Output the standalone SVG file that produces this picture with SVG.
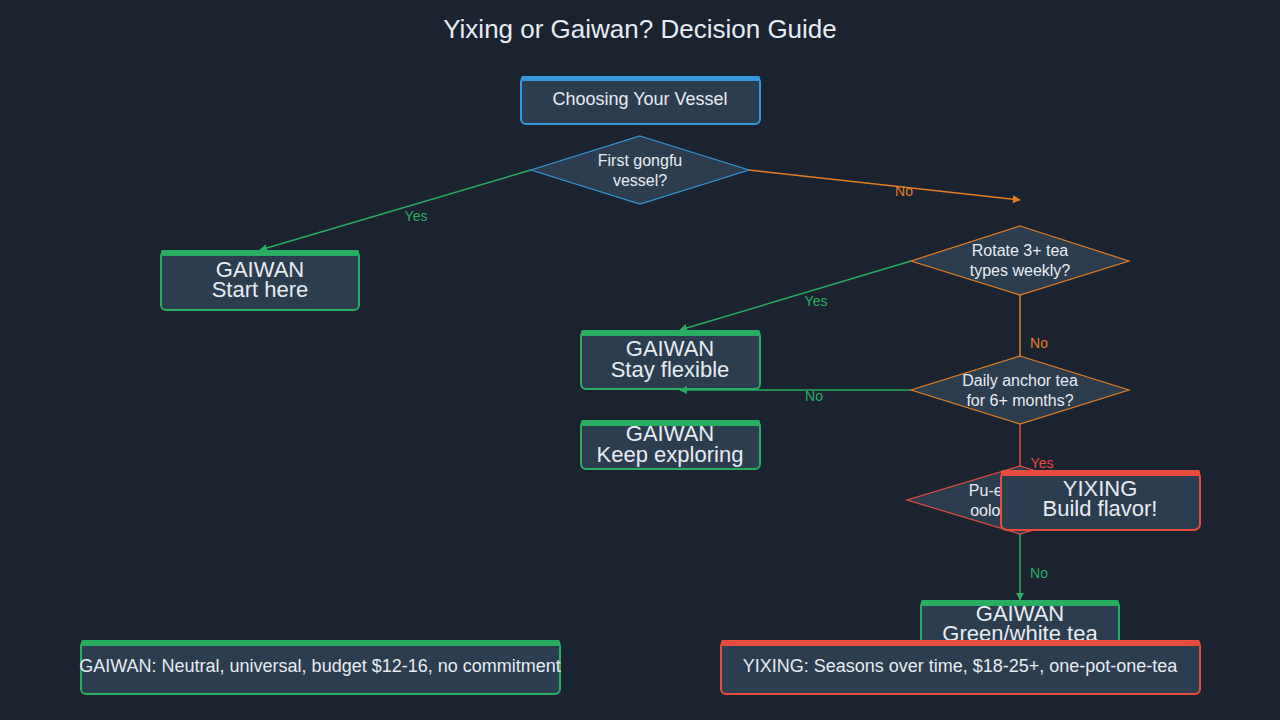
<svg xmlns="http://www.w3.org/2000/svg" width="1280" height="720" viewBox="0 0 1280 720">
<defs>
<style>
.bg{fill:#1b2331}
.title{font-family:"Liberation Sans",Arial,sans-serif;font-size:26px;fill:#e6ecf2;text-anchor:middle}
.nt{font-family:"Liberation Sans",Arial,sans-serif;fill:#e6ecf2;text-anchor:middle}
.box{fill:#2c3d50;stroke-width:2}
.dia{fill:#2c3d50;stroke-width:1.2}
.e{fill:none;stroke-width:1.5}
.lbl{font-family:"Liberation Sans",Arial,sans-serif;font-size:14px;text-anchor:middle}
.g{stroke:#27ae60}.gf{fill:#27ae60}
.b{stroke:#3498db}.bf{fill:#3498db}
.o{stroke:#e67e22}.of{fill:#e67e22}
.r{stroke:#e74c3c}.rf{fill:#e74c3c}
</style>
<marker id="ag" viewBox="0 0 10 10" refX="9" refY="5" markerWidth="8" markerHeight="8" markerUnits="userSpaceOnUse" orient="auto"><path d="M0,0L10,5L0,10z" fill="#27ae60"/></marker>
<marker id="ao" viewBox="0 0 10 10" refX="9" refY="5" markerWidth="8" markerHeight="8" markerUnits="userSpaceOnUse" orient="auto"><path d="M0,0L10,5L0,10z" fill="#e67e22"/></marker>
</defs>
<rect class="bg" x="0" y="0" width="1280" height="720"/>
<text class="title" x="640" y="38">Yixing or Gaiwan? Decision Guide</text>

<g id="start">
<rect class="box b" x="521" y="77" width="239" height="47" rx="5"/>
<rect class="bf" x="521" y="76" width="239" height="5" rx="2"/>
<text class="nt" x="640" y="105" font-size="18">Choosing Your Vessel</text>
</g>

<g id="d1">
<polygon class="dia b" points="640,136 749,170 640,204 531,170"/>
<text class="nt" x="640" y="166" font-size="16">First gongfu</text>
<text class="nt" x="640" y="186" font-size="16">vessel?</text>
</g>

<g id="gaiwan-start">
<rect class="box g" x="161" y="251" width="198" height="59" rx="5"/>
<rect class="gf" x="161" y="250" width="198" height="6" rx="2"/>
<text class="nt" x="260" y="277" font-size="22">GAIWAN</text>
<text class="nt" x="260" y="297" font-size="22">Start here</text>
</g>

<g id="d2">
<polygon class="dia o" points="1020,226 1129,261 1020,295 911,261"/>
<text class="nt" x="1020" y="256" font-size="16">Rotate 3+ tea</text>
<text class="nt" x="1020" y="276" font-size="16">types weekly?</text>
</g>

<g id="gaiwan-flex">
<rect class="box g" x="581" y="331" width="179" height="58" rx="5"/>
<rect class="gf" x="581" y="330" width="179" height="6" rx="2"/>
<text class="nt" x="670" y="356" font-size="22">GAIWAN</text>
<text class="nt" x="670" y="377" font-size="22">Stay flexible</text>
</g>

<g id="d3">
<polygon class="dia o" points="1020,356 1129,390 1020,424 911,390"/>
<text class="nt" x="1020" y="386" font-size="16">Daily anchor tea</text>
<text class="nt" x="1020" y="406" font-size="16">for 6+ months?</text>
</g>

<g id="gaiwan-explore">
<rect class="box g" x="581" y="421" width="179" height="48" rx="5"/>
<rect class="gf" x="581" y="420" width="179" height="6" rx="2"/>
<text class="nt" x="670" y="441" font-size="22">GAIWAN</text>
<text class="nt" x="670" y="462" font-size="22">Keep exploring</text>
</g>

<g id="d4">
<polygon class="dia r" points="1020,466 1133,500 1020,534 907,500"/>
<text class="nt" x="1020" y="496" font-size="16">Pu-erh or dark</text>
<text class="nt" x="1020" y="516" font-size="16">oolong focus?</text>
</g>

<g id="gaiwan-green">
<rect class="box g" x="921" y="601" width="198" height="59" rx="5"/>
<rect class="gf" x="921" y="600" width="198" height="6" rx="2"/>
<text class="nt" x="1020" y="621" font-size="22">GAIWAN</text>
<text class="nt" x="1020" y="641" font-size="22">Green/white tea</text>
</g>

<g id="connectors">
<line class="e g" x1="531" y1="170" x2="260" y2="250" marker-end="url(#ag)" stroke-width="1"/>
<text class="lbl gf" x="416" y="221">Yes</text>
<line class="e o" x1="749" y1="170" x2="1020" y2="200" marker-end="url(#ao)" stroke-width="1"/>
<text class="lbl of" x="904" y="196">No</text>
<line class="e g" x1="911" y1="261" x2="680" y2="330" marker-end="url(#ag)" stroke-width="1"/>
<text class="lbl gf" x="816" y="306">Yes</text>
<line class="e o" x1="1020" y1="295" x2="1020" y2="356" stroke-width="2"/>
<text class="lbl of" x="1039" y="348">No</text>
<line class="e g" x1="911" y1="390" x2="680" y2="390" marker-end="url(#ag)" stroke-width="2"/>
<text class="lbl gf" x="814" y="401">No</text>
<line class="e r" x1="1020" y1="424" x2="1020" y2="466" stroke-width="2"/>
<text class="lbl rf" x="1042" y="468">Yes</text>
<line class="e g" x1="1020" y1="534" x2="1020" y2="600" marker-end="url(#ag)" stroke-width="2"/>
<text class="lbl gf" x="1039" y="578">No</text>
</g>

<g id="yixing">
<rect class="box r" x="1001" y="471" width="199" height="59" rx="6"/>
<rect class="rf" x="1001" y="470" width="199" height="6" rx="2"/>
<text class="nt" x="1100" y="496" font-size="22">YIXING</text>
<text class="nt" x="1100" y="516" font-size="22">Build flavor!</text>
</g>

<g id="legend-gaiwan">
<rect class="box g" x="81" y="641" width="479" height="53" rx="5"/>
<rect class="gf" x="81" y="640" width="479" height="6" rx="2"/>
<text class="nt" x="320" y="672" font-size="18">GAIWAN: Neutral, universal, budget $12-16, no commitment</text>
</g>

<g id="legend-yixing">
<rect class="box r" x="721" y="641" width="479" height="53" rx="5"/>
<rect class="rf" x="721" y="640" width="479" height="6" rx="2"/>
<text class="nt" x="960" y="672" font-size="18">YIXING: Seasons over time, $18-25+, one-pot-one-tea</text>
</g>
</svg>
